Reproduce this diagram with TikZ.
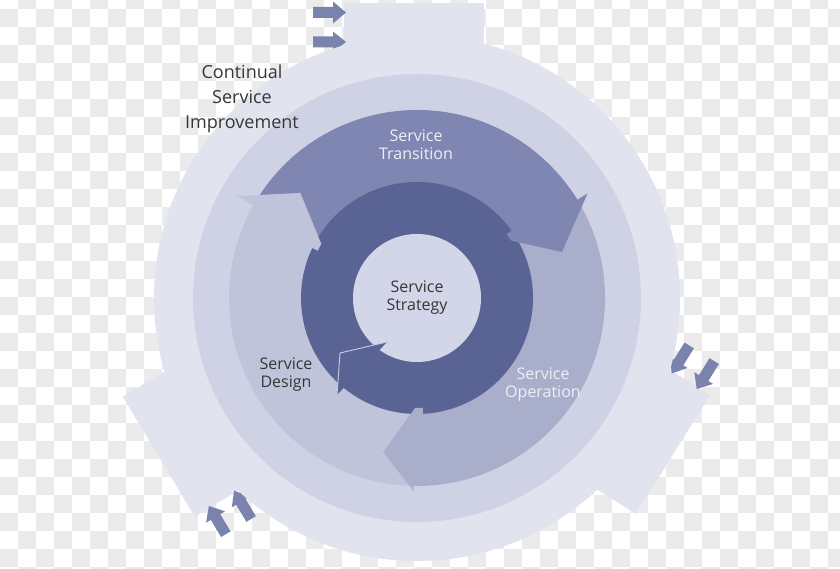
\documentclass[tikz,border=0pt]{standalone}
\usepackage{fontspec}
\setmainfont{Open Sans}
\definecolor{chk}{HTML}{EBEBEB}
\definecolor{outerc}{HTML}{E1E3EF}
\definecolor{ringc}{HTML}{CFD2E5}
\definecolor{designc}{HTML}{C0C4DB}
\definecolor{operc}{HTML}{A9AECB}
\definecolor{transc}{HTML}{7E86B1}
\definecolor{darkc}{HTML}{5A6494}
\definecolor{innerc}{HTML}{D3D6E8}
\definecolor{tabarrow}{HTML}{7A82AE}
\definecolor{lighttext}{HTML}{EEF0F7}
\definecolor{darktext}{HTML}{363636}
\definecolor{edgec}{HTML}{C9CDE2}
\tikzset{
  lbl/.style={align=center, inner sep=0pt, font=\fontsize{16}{18}\selectfont},
  csilbl/.style={align=center, inner sep=0pt, text=darktext, font=\fontsize{18}{25}\selectfont},
}
\begin{document}
\begin{tikzpicture}[x=1pt,y=1pt]
\useasboundingbox (0,0) rectangle (840,569);
\fill[white] (0,0) rectangle (840,569);
% checkerboard background
\begin{scope}
\clip (0,0) rectangle (840,569);
\foreach \i in {0,...,46}{
  \foreach \j in {-1,...,31}{
    \pgfmathtruncatemacro\chkp{mod(\i+\j+100,2)}
    \ifnum\chkp=0
      \fill[chk] (18*\i,560-18*\j) rectangle ++(18,-18);
    \fi
  }
}
\end{scope}
\begin{scope}[shift={(417,271)}]
  % tabs with their arrows
  \foreach \rot/\len in {0/295,-122/300,121/303}{
    \begin{scope}[rotate=\rot]
      \fill[outerc] (-73,0) rectangle (67,\len);
      \fill[tabarrow] (-104,280) -- (-84,280) -- (-84,274.5) -- (-71,285.5) -- (-84,296.5) -- (-84,291) -- (-104,291) -- cycle;
      \fill[tabarrow] (-104,250.5) -- (-84,250.5) -- (-84,245.5) -- (-71,256) -- (-84,266.5) -- (-84,261.5) -- (-104,261.5) -- cycle;
    \end{scope}
  }
  % outer rings
  \fill[outerc] (0,0) circle[radius=263pt];
  \fill[ringc] (0,0) circle[radius=224pt];
  % arrow bodies
  \fill[transc] (150.5:188pt) arc[start angle=150.5,end angle=31.5,radius=188pt] -- (31.5:100pt) arc[start angle=31.5,end angle=150.5,radius=100pt] -- cycle;
  \fill[operc] (31.5:188pt) arc[start angle=31.5,end angle=-91,radius=188pt] -- (-91:100pt) arc[start angle=-91,end angle=31.5,radius=100pt] -- cycle;
  \fill[designc] (269:188pt) arc[start angle=269,end angle=150.5,radius=188pt] -- (150.5:100pt) arc[start angle=150.5,end angle=269,radius=100pt] -- cycle;
  % strategy ring
  \fill[darkc] (0,0) circle[radius=116pt];
  % arrow heads (with a short piece of body so no seam shows)
  \fill[transc] (35.5:110pt) -- (35.5:188pt) arc[start angle=35.5,end angle=31.5,radius=188pt] -- (31.5:200pt) -- (17.6:152pt) -- (31.5:110pt) -- cycle;
  \fill[operc] (-87:110pt) -- (-87:188pt) arc[start angle=-87,end angle=-91,radius=188pt] -- (-91:193pt) -- (-102.4:158pt) -- (-91:110pt) -- cycle;
  \fill[designc] (154.5:110pt) -- (154.5:188pt) arc[start angle=154.5,end angle=150.5,radius=188pt] -- (150.5:207pt) -- (138:157pt) -- (150.5:110pt) -- cycle;
  % inner circle
  \fill[innerc] (0,0) circle[radius=64pt];
  % head of the strategy ring
  \fill[darkc] (-80,-97) -- (-77,-55) -- (-30,-44) -- cycle;
  \draw[edgec, line width=0.9pt, line join=miter] (-80,-97) -- (-77,-55) -- (-30,-44);
\end{scope}
% labels
\node[lbl, text=lighttext] (trans) at (416,424) {Service\\Transition};
\node[lbl, text=lighttext] (oper) at (543,184) {Service\\Operation};
\node[lbl, text=darktext] (design) at (286,194) {Service\\Design};
\node[lbl, text=darktext] (strat) at (417,271) {Service\\Strategy};
\node[csilbl] (csi) at (242,470) {Continual\\Service\\Improvement};
\end{tikzpicture}
\end{document}
